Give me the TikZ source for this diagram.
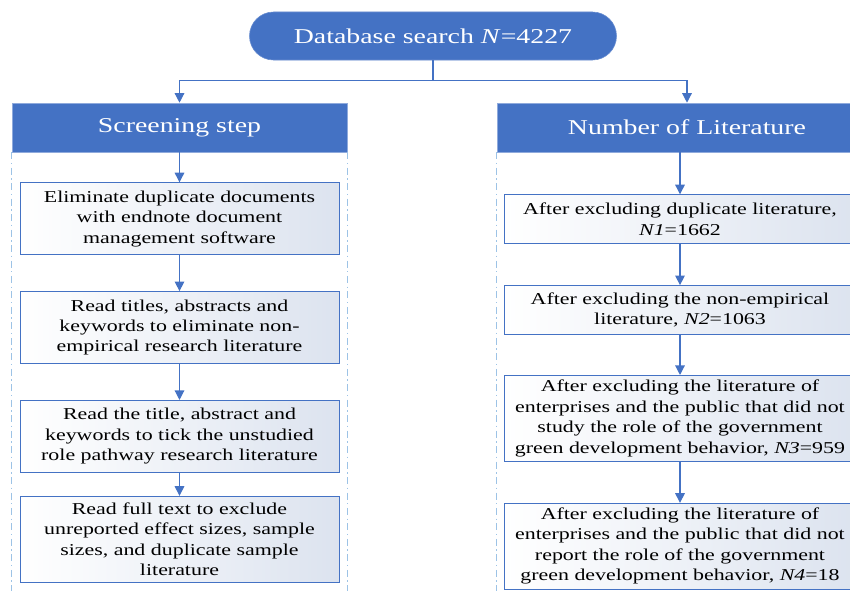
\documentclass[tikz,border=0pt]{standalone}
\usepackage{fontspec}
\setmainfont{Liberation Serif}[FakeStretch=1.32]
\usepackage{xcolor}
\usetikzlibrary{positioning, arrows.meta}

\definecolor{flowblue}{HTML}{4472C4}
\definecolor{framecol}{HTML}{9DC3E6}
\definecolor{boxtint}{HTML}{DCE3EF}

\begin{document}
\begin{tikzpicture}[node distance=1.0cm, every node/.style={align=center}, arrow/.style={-{Triangle[length=2.4mm,width=2.4mm]}, draw=flowblue, line width=0.9pt}]
        \tikzstyle{pill} = [rectangle, rounded corners=0.6cm, fill=flowblue, draw=flowblue!80!white, text=white, minimum width=9.175cm, minimum height=1.2cm, font=\fontsize{15}{18}\selectfont]
        \tikzstyle{header} = [rectangle, fill=flowblue, draw=flowblue!60!white, text=white, minimum height=1.225cm, font=\fontsize{15}{18}\selectfont]
        \tikzstyle{stepbox} = [rectangle, draw=flowblue, line width=0.6pt, left color=white, right color=boxtint, minimum width=7.975cm, inner xsep=1pt, font=\fontsize{11.8}{14.5}\selectfont]
        \tikzstyle{countbox} = [stepbox, minimum width=8.8cm]
        \tikzstyle{frame} = [draw=framecol, line width=0.6pt, dash pattern=on 5pt off 2.5pt on 1pt off 2.5pt]

        \useasboundingbox (0,0) rectangle (21.25,-14.75);
        \clip (0,0) rectangle (21.25,-14.75);

        \node[pill] (search) at (10.825,-0.9) {Database search \textit{N}=4227};
        \node[header, minimum width=8.375cm] (hdrL) at (4.4875,-3.1875) {Screening step};
        \node[header, minimum width=9.5cm] (hdrR) at (17.175,-3.1875) {Number of Literature};

        % screening column
        \node[stepbox, minimum height=1.8cm, below=0.75cm of hdrL] (s1) {Eliminate duplicate documents\\with endnote document\\management software};
        \node[stepbox, minimum height=1.8cm, below=0.9cm of s1] (s2) {Read titles, abstracts and\\keywords to eliminate non-\\empirical research literature};
        \node[stepbox, minimum height=1.8cm, below=0.9cm of s2] (s3) {Read the title, abstract and\\keywords to tick the unstudied\\role pathway research literature};
        \node[stepbox, minimum height=2.15cm, below=0.575cm of s3] (s4) {Read full text to exclude\\unreported effect sizes, sample\\sizes, and duplicate sample\\literature};

        % literature counts
        \node[countbox, minimum height=1.225cm, below=1.05cm of hdrR, xshift=-0.175cm] (r1) {After excluding duplicate literature,\\\textit{N1}=1662};
        \node[countbox, minimum height=1.225cm, below=1.025cm of r1] (r2) {After excluding the non-empirical\\literature, \textit{N2}=1063};
        \node[countbox, minimum height=2.15cm, below=1.0cm of r2] (r3) {After excluding the literature of\\enterprises and the public that did not\\study the role of the government\\green development behavior, \textit{N3}=959};
        \node[countbox, minimum height=2.125cm, below=1.025cm of r3] (r4) {After excluding the literature of\\enterprises and the public that did not\\report the role of the government\\green development behavior, \textit{N4}=18};

        \draw[frame] (hdrL.south west) -- ++(0,-11);
        \draw[frame] (hdrL.south east) -- ++(0,-11);
        \draw[frame] (hdrR.south west) -- ++(0,-11);
        \draw[frame] (hdrR.south east) -- ++(0,-11);

        \draw[flowblue, line width=0.9pt] (search.south) -- ++(0,-0.5) coordinate (split);
        \draw[arrow] (split) -| (hdrL.north);
        \draw[arrow] (split) -| (hdrR.north);

        \draw[arrow] (hdrL) -- (s1);
        \draw[arrow] (s1) -- (s2);
        \draw[arrow] (s2) -- (s3);
        \draw[arrow] (s3) -- (s4);

        \draw[arrow] (r1.north |- hdrR.south) -- (r1);
        \draw[arrow] (r1) -- (r2);
        \draw[arrow] (r2) -- (r3);
        \draw[arrow] (r3) -- (r4);
    \end{tikzpicture}
\end{document}
